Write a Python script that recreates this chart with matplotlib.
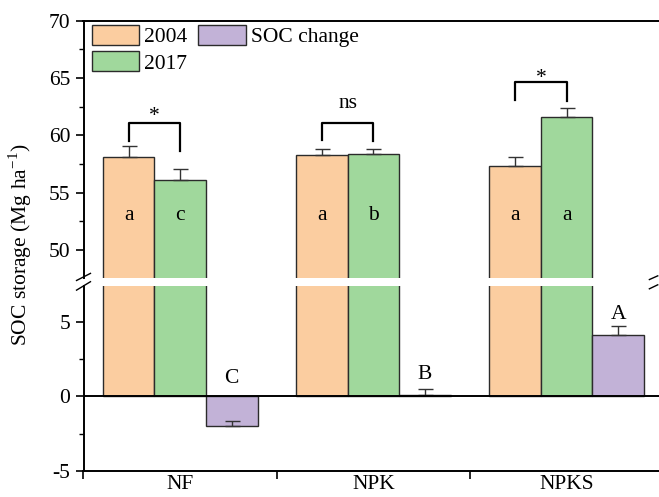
import numpy as np
import matplotlib.pyplot as plt
from matplotlib.ticker import MultipleLocator

plt.rcParams['font.family'] = ['Liberation Serif', 'DejaVu Serif']
plt.rcParams['axes.unicode_minus'] = False
plt.rcParams['mathtext.fontset'] = 'custom'
plt.rcParams['mathtext.rm'] = 'Liberation Serif'

# data
groups = ['NF', 'NPK', 'NPKS']
soc_2004 = [58.15, 58.3, 57.35]
err_2004 = [0.9, 0.5, 0.8]
soc_2017 = [56.1, 58.4, 61.6]
err_2017 = [1.0, 0.45, 0.8]
soc_change = [-2.0, 0.1, 4.15]
err_change = [0.32, 0.37, 0.6]
letters_2004 = ['a', 'a', 'a']
letters_2017 = ['c', 'b', 'a']
letters_change = ['C', 'B', 'A']
sig_labels = ['*', 'ns', '*']
sig_label_y = [61.3, 62.35, 64.6]
bracket_top = [61.05, 61.05, 64.65]
bracket_left_end = [59.5, 59.6, 63.1]
bracket_right_end = [58.6, 59.5, 63.0]
change_letter_y = [1.2, 1.45, 5.5]

c2004 = '#fbcda0'
c2017 = '#a0d89c'
cchg = '#c2b2d7'
ec = '#2b2b2b'
fs = 15.5

fig = plt.figure(figsize=(6.59, 4.97), dpi=100)
W, H = 659, 497
left = 83.5 / W
width = (663.3 - 83.5) / W
ax_top = fig.add_axes([left, 1 - 277.7 / H, width, (277.7 - 20.7) / H])
ax_bot = fig.add_axes([left, 1 - 470.7 / H, width, (470.7 - 285.7) / H])

x = np.arange(len(groups))
w = 0.267

for ax in (ax_top, ax_bot):
    ek = dict(ecolor='#333333', elinewidth=1.0, capthick=1.0)
    ax.bar(x - w, soc_2004, w, color=c2004, edgecolor=ec, linewidth=1.0, label='2004',
           yerr=[np.zeros(3), err_2004], capsize=5.4, error_kw=ek)
    ax.bar(x, soc_2017, w, color=c2017, edgecolor=ec, linewidth=1.0, label='2017',
           yerr=[np.zeros(3), err_2017], capsize=5.4, error_kw=ek)
    ax.bar(x + w, soc_change, w, color=cchg, edgecolor=ec, linewidth=1.0, label='SOC change',
           yerr=[np.zeros(3), err_change], capsize=5.4, error_kw=ek)
    ax.set_xlim(-0.5, 2.5)
    ax.tick_params(axis='y', which='major', direction='out', length=6, width=1.2, labelsize=fs)
    ax.tick_params(axis='y', which='minor', direction='out', length=3.5, width=1.0)
    for s in ax.spines.values():
        s.set_linewidth(1.4)
    ax.spines['right'].set_visible(False)

ax_top.set_ylim(47.6, 70)
ax_top.yaxis.set_minor_locator(MultipleLocator(2.5))
ax_top.set_yticks([50, 55, 60, 65, 70])
ax_top.spines['bottom'].set_visible(False)
ax_top.tick_params(axis='x', which='both', bottom=False, labelbottom=False)

ax_bot.set_ylim(-5, 7.45)
ax_bot.set_yticks([-5, 0, 5])
ax_bot.yaxis.set_minor_locator(MultipleLocator(2.5))
ax_bot.spines['top'].set_visible(False)
ax_bot.axhline(0, color='black', linewidth=1.4)
ax_bot.set_xticks([-0.5, 0.5, 1.5, 2.5])
ax_bot.set_xticklabels([])
ax_bot.set_xticks(x, minor=True)
ax_bot.set_xticklabels(groups, minor=True, fontsize=fs)
ax_bot.tick_params(axis='x', which='major', direction='out', length=6, width=1.2)
ax_bot.tick_params(axis='x', which='minor', length=0, pad=3)

# letters inside bars
for i in range(3):
    ax_top.text(x[i] - w, 53, letters_2004[i], ha='center', va='center', fontsize=fs)
    ax_top.text(x[i], 53, letters_2017[i], ha='center', va='center', fontsize=fs)
    ax_bot.text(x[i] + w, change_letter_y[i], letters_change[i], ha='center', va='center', fontsize=fs)
    # significance brackets
    xl, xr = x[i] - w, x[i]
    ax_top.plot([xl, xl, xr, xr], [bracket_left_end[i], bracket_top[i], bracket_top[i], bracket_right_end[i]],
                color='black', linewidth=1.6)
    ax_top.text((xl + xr) / 2, sig_label_y[i], sig_labels[i], ha='center', va='baseline', fontsize=fs)

# break marks
dx, dy = 0.012, 0.012
kw = dict(color='black', linewidth=1.0, clip_on=False)
ax_top.plot([-dx, dx], [-dy * 0.9, dy * 1.4], transform=ax_top.transAxes, **kw)
ax_bot.plot([-dx, dx], [1 - dy * 2.0, 1 + dy * 1.8], transform=ax_bot.transAxes, **kw)
ax_top.plot([1 - 2 * dx, 1 - dx * 0.8], [-dy * 0.6, dy * 0.6], transform=ax_top.transAxes, **kw)
ax_bot.plot([1 - 2 * dx, 1 - dx * 0.8], [1 - dy * 1.4, 1 + dy * 0.4], transform=ax_bot.transAxes, **kw)

leg = ax_top.legend(loc='upper left', bbox_to_anchor=(0.014, 0.985), ncol=2, frameon=False,
                    fontsize=fs, handlelength=2.2, handleheight=1.05, handletextpad=0.25,
                    columnspacing=0.5, labelspacing=0.2, borderpad=0, borderaxespad=0)

fig.text(20 / W, 1 - 245 / H, 'SOC storage (Mg ha$^{-1}$)', rotation=90, ha='center', va='center', fontsize=fs)

fig.savefig('out.png', dpi=100)
